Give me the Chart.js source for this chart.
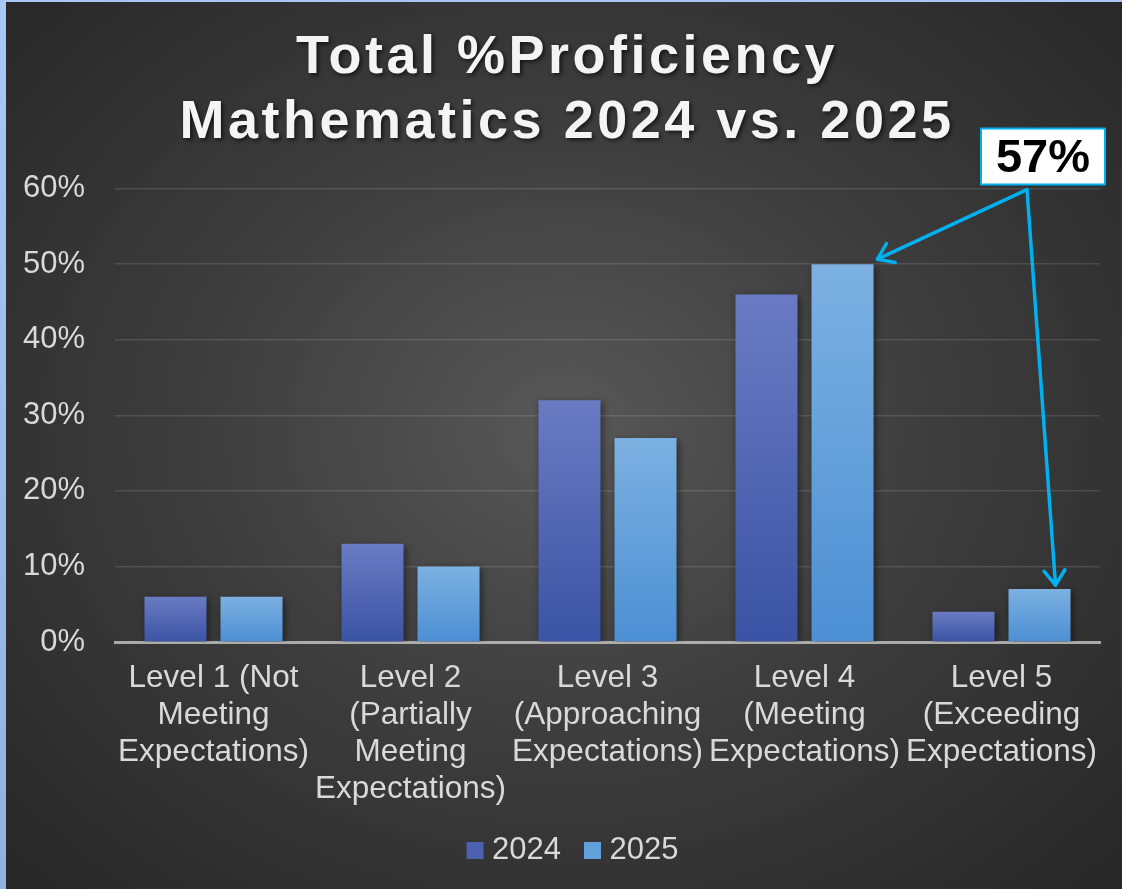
<!DOCTYPE html>
<html>
<head>
<meta charset="utf-8">
<script src="https://cdn.jsdelivr.net/npm/chart.js@4.4.1/dist/chart.umd.min.js"></script>
<style>
  html, body { margin: 0; padding: 0; }
  body {
    width: 1122px; height: 889px; overflow: hidden;
    background: linear-gradient(180deg, #a9c7f6 0%, #8fb2df 100%);
    position: relative;
  }
  #wrap {
    position: absolute; left: 6px; top: 2px; width: 1116px; height: 887px;
    background: radial-gradient(ellipse farthest-corner at 50% 48%, #585858 0%, #3e3e3e 45%, #262626 100%);
  }
</style>
</head>
<body>
<div id="wrap"><canvas id="chart" width="1116" height="887"></canvas></div>
<script>
const categories = [
  ["Level 1 (Not", "Meeting", "Expectations)"],
  ["Level 2", "(Partially", "Meeting", "Expectations)"],
  ["Level 3", "(Approaching", "Expectations)"],
  ["Level 4", "(Meeting", "Expectations)"],
  ["Level 5", "(Exceeding", "Expectations)"]
];
const values2024 = [6, 13, 32, 46, 4];
const values2025 = [6, 10, 27, 50, 7];
const seriesNames = ["2024", "2025"];
const titleLines = ["Total %Proficiency", "Mathematics 2024 vs. 2025"];
const calloutText = "57%";

const FONT = "'Liberation Sans', Arial, sans-serif";
const LABEL = "#d9d9d9";
const CYAN = "#00b0f0";

function barFill(top, bottom) {
  return (c) => {
    const chart = c.chart;
    const y = chart.scales.y;
    if (!chart.chartArea || !y || c.type !== "data") return bottom;
    const y0 = y.getPixelForValue(c.raw);
    const y1 = y.getPixelForValue(0);
    if (!isFinite(y0) || !isFinite(y1) || y0 === y1) return bottom;
    const g = chart.ctx.createLinearGradient(0, y0, 0, y1);
    g.addColorStop(0, top);
    g.addColorStop(1, bottom);
    return g;
  };
}

// wrap a layout box's draw so it can be shifted / styled
function wrapDraw(chart, box, dx, style) {
  if (!box || box._wrapped) return;
  const orig = box.draw.bind(box);
  box.draw = function () {
    const c = chart.ctx;
    c.save();
    c.translate(dx, 0);
    if (style) style(c);
    orig();
    c.restore();
  };
  box._wrapped = true;
}

const boxStyle = {
  id: "boxStyle",
  afterLayout(chart) {
    wrapDraw(chart, chart.titleBlock, 14, (c) => {
      c.shadowColor = "rgba(0,0,0,0.65)";
      c.shadowBlur = 4;
      c.shadowOffsetX = 2;
      c.shadowOffsetY = 2;
      c.letterSpacing = "3.5px";
    });
    wrapDraw(chart, chart.legend, 23);
  }
};

const barShadow = {
  id: "barShadow",
  beforeDatasetsDraw(chart) {
    const c = chart.ctx;
    c.save();
    c.shadowColor = "rgba(0,0,0,0.45)";
    c.shadowBlur = 7;
    c.shadowOffsetX = 2;
    c.shadowOffsetY = 2;
  },
  afterDatasetsDraw(chart) {
    chart.ctx.restore();
  }
};

function arrow(c, x0, y0, x1, y1) {
  c.beginPath();
  c.moveTo(x0, y0);
  c.lineTo(x1, y1);
  c.stroke();
  const a = Math.atan2(y1 - y0, x1 - x0);
  const len = 18, spread = 0.62;
  c.beginPath();
  c.moveTo(x1 - len * Math.cos(a - spread), y1 - len * Math.sin(a - spread));
  c.lineTo(x1, y1);
  c.lineTo(x1 - len * Math.cos(a + spread), y1 - len * Math.sin(a + spread));
  c.stroke();
}

const callout = {
  id: "callout",
  afterDraw(chart) {
    const c = chart.ctx;
    const area = chart.chartArea;
    const bars = chart.getDatasetMeta(1).data;
    const b4 = bars[3], b5 = bars[4];
    const ox = area.right - 73, oy = area.top + 1;
    c.save();
    c.strokeStyle = CYAN;
    c.lineWidth = 3.5;
    c.lineCap = "round";
    c.lineJoin = "round";
    arrow(c, ox, oy, b4.x + b4.width / 2 + 4, b4.y - 5);
    arrow(c, ox, oy, b5.x + 16, b5.y - 4);
    const bx = area.right - 119, by = area.top - 60, bw = 124, bh = 56;
    c.fillStyle = "#ffffff";
    c.fillRect(bx, by, bw, bh);
    c.lineWidth = 2;
    c.strokeRect(bx, by, bw, bh);
    c.fillStyle = "#000000";
    c.font = "bold 47px " + FONT;
    c.textAlign = "center";
    c.textBaseline = "middle";
    c.fillText(calloutText, bx + bw / 2, by + bh / 2 + 2);
    c.restore();
  }
};

new Chart(document.getElementById("chart"), {
  type: "bar",
  data: {
    labels: categories,
    datasets: [
      {
        label: seriesNames[0],
        data: values2024,
        backgroundColor: barFill("#6a7bc3", "#3a53a4"),
        categoryPercentage: 0.772,
        barPercentage: 0.816
      },
      {
        label: seriesNames[1],
        data: values2025,
        backgroundColor: barFill("#7cb1e1", "#4c8fd4"),
        categoryPercentage: 0.772,
        barPercentage: 0.816
      }
    ]
  },
  options: {
    responsive: false,
    animation: false,
    layout: { padding: { left: 0, right: 22, top: 0, bottom: 13 } },
    plugins: {
      title: {
        display: true,
        text: titleLines,
        color: "#f4f4f4",
        font: { family: FONT, size: 54, weight: "bold", lineHeight: 1.2 },
        padding: { top: 24, bottom: 33 }
      },
      legend: {
        position: "bottom",
        labels: {
          color: LABEL,
          font: { family: FONT, size: 31 },
          // tiny box + thick stroke gives a 17px square with a short gap to the text
          boxWidth: 3,
          boxHeight: 3,
          padding: 30,
          generateLabels(chart) {
            const items = Chart.defaults.plugins.legend.labels.generateLabels(chart);
            const solid = ["#4c62b1", "#62a0dc"];
            items.forEach((it, i) => {
              it.fillStyle = solid[i];
              it.strokeStyle = solid[i];
              it.lineWidth = 14;
              it.lineJoin = "miter";
            });
            return items;
          }
        }
      },
      tooltip: { enabled: false }
    },
    scales: {
      x: {
        z: 1,
        grid: { display: false, drawTicks: false },
        border: { display: true, color: "rgba(210,210,210,0.75)", width: 3 },
        ticks: {
          color: LABEL,
          font: { family: FONT, size: 31.5, lineHeight: 1.175 },
          padding: 18,
          maxRotation: 0,
          autoSkip: false
        },
        afterFit(s) { s.height = 163; }
      },
      y: {
        min: 0,
        max: 60,
        ticks: {
          stepSize: 10,
          color: LABEL,
          font: { family: FONT, size: 31 },
          padding: 30,
          callback: (v) => v + "%"
        },
        grid: {
          drawTicks: false,
          lineWidth: 1.5,
          color: (c) => (c.tick && c.tick.value === 0 ? "rgba(0,0,0,0)" : "rgba(255,255,255,0.12)")
        },
        border: { display: false },
        afterFit(s) { s.width = 109; }
      }
    }
  },
  plugins: [boxStyle, barShadow, callout]
});
</script>
</body>
</html>
